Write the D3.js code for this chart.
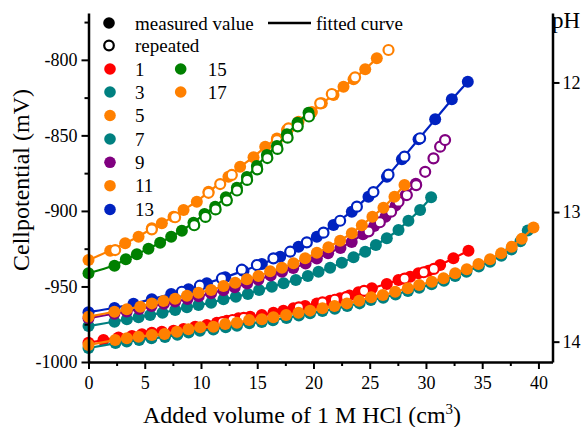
<!DOCTYPE html>
<html><head><meta charset="utf-8">
<script src="https://cdn.jsdelivr.net/npm/d3@7"></script>
<style>
body{margin:0;background:#fff}
svg{display:block}
</style>
</head><body>
<svg id="chart" width="585" height="427"></svg>
<script>
// ---------- data ----------
const xTickValues = [0,5,10,15,20,25,30,35,40];
const xMinorTicks = [2.5,7.5,12.5,17.5,22.5,27.5,32.5,37.5];
const yTickValues = [-1000,-950,-900,-850,-800];
const yMinorTicks = [-975,-925,-875,-825,-775];
const pHTickValues = [12,13,14];

const seriesLabels = ["1","3","5","7","9","11","13","15","17"];
const seriesColors = ["#ff0000","#008080","#ff8000","#008080","#800080","#ff8000","#0022c0","#008000","#ff8000"];

// pH 1 (red)
const pH1_measured = [[0,-987.2],[1.33,-985.5],[2.67,-983.8],[3.86,-982.8],[4.75,-981.7],[5.63,-980.6],[6.52,-979.9],[7.56,-979.3],[8.45,-978.2],[9.48,-976.6],[10.52,-975.5],[11.41,-974.0],[12.3,-972.7],[13.33,-971.1],[14.37,-970.0],[15.41,-968.9],[16.44,-967.4],[17.33,-966.0],[18.22,-964.5],[19.26,-962.9],[20.3,-961.2],[21.48,-959.4],[22.37,-957.8],[23.2,-956.0],[24.0,-953.9],[25.19,-951.2],[26.52,-948.4],[27.56,-945.7],[28.6,-943.5],[29.33,-941.3],[30.22,-939.6],[31.26,-935.8],[32.44,-931.4],[33.78,-926.3]];
const pH1_repeated = [[11.9,-973.6],[12.8,-972.2],[13.8,-970.8],[18.7,-963.8],[20.8,-960.5],[21.9,-958.8],[22.9,-957.0],[24.5,-952.9],[28.1,-944.8],[29.8,-940.6],[30.7,-938.4]];

// pH 3 (teal)
const pH3_measured = [[0,-990.8],[2.4,-987.5],[3.4,-986.5],[4.5,-985.5],[5.6,-984.3],[6.8,-983.5],[7.9,-982.0],[8.9,-980.5],[9.9,-979.3],[11.1,-978.5],[12.2,-977.0],[13.2,-976.0],[14.3,-974.3],[15.4,-973.5],[16.4,-972.3],[17.6,-970.8],[18.7,-969.3],[19.7,-967.8],[20.8,-966.3],[21.9,-964.8],[23.0,-963.0],[24.1,-961.2],[25.1,-959.0],[26.2,-957.5],[27.3,-955.3],[28.4,-953.0],[29.4,-950.8],[30.5,-948.6],[31.6,-946.3],[32.6,-943.0],[33.6,-940.3],[34.7,-936.8],[35.7,-933.6],[36.7,-929.6],[37.6,-925.5],[38.4,-920.0],[39.05,-913.0]];
const pH3_repeated = [];

// pH 5 (orange, middle curve)
const pH5_measured = [[0,-970.0],[2.31,-966.7],[3.41,-965.1],[4.6,-963.4],[5.63,-961.2],[6.67,-959.6],[7.7,-958.1],[8.75,-956.2],[9.78,-954.1],[10.9,-952.3],[12.0,-949.7],[13.04,-947.5],[14.08,-945.3],[15.11,-943.1],[16.15,-940.0],[17.19,-937.6],[18.22,-934.7],[19.26,-931.4],[20.3,-927.7],[21.33,-924.1],[22.37,-919.7],[23.41,-914.8],[24.3,-909.5],[25.24,-903.8],[26.22,-897.9],[27.2,-890.6],[28.09,-882.9]];
const pH5_repeated = [];

// pH 7 (teal)
const pH7_measured = [[0,-976.2],[2.31,-973.3],[3.41,-971.7],[4.45,-970.4],[5.48,-968.9],[6.58,-967.4],[7.71,-965.6],[8.75,-963.8],[9.78,-962.3],[10.9,-960.8],[12.0,-958.5],[13.1,-956.8],[14.17,-955.0],[15.17,-952.3],[16.3,-950.2],[17.34,-947.9],[18.43,-945.7],[19.5,-943.1],[20.45,-940.2],[21.48,-937.6],[22.52,-934.3],[23.56,-930.7],[24.6,-927.0],[25.55,-922.6],[26.52,-918.1],[27.56,-912.6],[28.44,-906.5],[29.48,-899.4],[30.46,-891.0]];
const pH7_repeated = [];

// pH 9 (purple)
const pH9_measured = [[0,-971.0],[2.3,-968.0],[3.4,-966.5],[4.5,-965.0],[5.6,-963.0],[6.7,-961.5],[7.7,-960.0],[8.8,-958.3],[9.8,-956.5],[10.9,-954.5],[12.0,-952.5],[13.0,-950.5],[14.1,-948.0],[15.1,-945.5],[16.2,-942.8],[17.2,-940.2],[18.2,-937.8],[19.3,-934.8],[20.3,-931.5],[21.3,-928.0],[22.4,-924.5],[23.4,-920.5],[24.4,-915.5],[25.4,-910.0],[26.4,-903.8],[27.3,-896.5],[28.2,-889.5],[29.1,-882.0]];
const pH9_repeated = [[24.9,-913.5],[25.9,-907.5],[26.9,-900.5],[27.56,-893.9],[28.3,-889.5],[29.13,-882.9],[29.93,-874.1],[30.67,-865.2],[31.26,-857.5],[31.7,-853.1]];

// pH 11 (orange, top curve)
const pH11_measured = [[0,-932.5],[1.93,-926.3],[3.26,-921.4],[4.45,-917.1],[5.63,-911.5],[6.52,-908.2],[7.56,-903.8],[8.45,-899.4],[9.63,-893.9],[10.67,-887.3],[12.44,-877.4],[13.48,-870.7],[14.67,-864.5],[15.71,-857.5],[16.75,-852.0],[17.64,-846.5],[18.67,-841.0],[19.86,-834.5],[20.74,-828.8],[21.78,-823.3],[22.67,-817.8],[23.56,-812.9],[24.6,-806.3],[25.63,-799.0]];
const pH11_repeated = [[2.37,-925.9],[5.63,-912.2],[7.7,-904.2],[10.67,-888.0],[11.71,-882.2],[12.74,-876.2],[16.75,-853.1],[17.78,-845.3],[20.6,-828.8],[21.63,-822.6],[23.7,-811.6],[26.67,-793.5]];

// pH 13 (blue)
const pH13_measured = [[0,-967.0],[2.31,-964.3],[4.0,-961.5],[5.63,-958.5],[7.35,-955.0],[8.89,-951.9],[10.52,-947.9],[12.15,-943.9],[13.78,-939.8],[15.41,-935.1],[17.04,-930.3],[18.67,-923.7],[20.3,-917.1],[21.78,-909.3],[23.41,-900.5],[24.89,-890.6],[26.53,-877.4],[27.86,-865.8],[29.34,-852.6],[30.82,-839.4],[32.3,-826.1],[33.72,-814.5]];
const pH13_repeated = [[8.3,-953.5],[9.9,-949.5],[11.86,-944.7],[13.63,-938.9],[14.97,-935.8],[16.44,-931.4],[17.93,-927.0],[19.41,-920.8],[20.89,-914.4],[22.37,-906.5],[23.86,-897.2],[25.33,-887.5],[26.67,-876.0],[28.09,-864.1],[29.48,-851.9]];

// pH 15 (green)
const pH15_measured = [[0,-941.3],[2.31,-936.3],[3.32,-932.0],[4.3,-928.7],[5.33,-925.0],[6.37,-921.0],[7.35,-917.1],[8.3,-913.1],[9.33,-907.8],[10.31,-902.1],[11.26,-897.2],[12.21,-891.0],[13.19,-884.6],[14.08,-877.6],[14.97,-870.3],[15.86,-863.0],[16.75,-857.0],[17.64,-849.3],[18.58,-841.6],[19.56,-835.0]];
const pH15_repeated = [[9.4,-909.5],[10.4,-904.0],[11.3,-899.0],[12.3,-893.0],[13.2,-886.5],[14.1,-879.5],[15.0,-872.5],[15.9,-865.0],[16.8,-859.0],[17.7,-851.5],[18.6,-844.0],[19.6,-837.5]];

// pH 17 (orange, bottom curve)
const pH17_measured = [[0,-988.7],[2.37,-985.4],[3.41,-984.3],[4.45,-983.3],[5.63,-982.1],[6.76,-981.5],[7.86,-979.9],[8.89,-978.4],[9.93,-977.0],[11.11,-976.6],[12.15,-974.9],[13.19,-974.0],[14.28,-972.2],[15.41,-971.7],[16.44,-970.4],[17.57,-968.9],[18.67,-967.4],[19.7,-966.0],[20.8,-964.5],[21.87,-962.9],[22.97,-961.2],[24.06,-959.4],[25.13,-957.2],[26.17,-955.7],[27.26,-953.5],[28.39,-951.2],[29.4,-949.0],[30.52,-946.9],[31.56,-944.6],[32.6,-941.3],[33.63,-938.6],[34.67,-935.1],[35.7,-932.0],[36.68,-928.1],[37.63,-923.7],[38.52,-918.5],[39.56,-911.0]];
const pH17_repeated = [];

const seriesMeasured = [pH1_measured,pH3_measured,pH5_measured,pH7_measured,pH9_measured,pH11_measured,pH13_measured,pH15_measured,pH17_measured];
const seriesRepeated = [pH1_repeated,pH3_repeated,pH5_repeated,pH7_repeated,pH9_repeated,pH11_repeated,pH13_repeated,pH15_repeated,pH17_repeated];
const drawOrder = [0,1,8,3,4,6,2,5,7];

// ---------- chart ----------
const FONT = "'Liberation Serif', 'Times New Roman', Tinos, 'DejaVu Serif', serif";
const svg = d3.select("#chart");
const x = d3.scaleLinear().domain([0,41.25]).range([88.5,552.5]);
const y = d3.scaleLinear().domain([-1000,-769]).range([362,13]);
const yPH = d3.scaleLinear().domain([14.157,11.464]).range([362,13]);

const line = d3.line().x(d=>x(d[0])).y(d=>y(d[1])).curve(d3.curveBasis);
const plot = svg.append("g");

drawOrder.forEach(i=>{
  const col = seriesColors[i];
  const g = plot.append("g");
  g.append("path").datum(seriesMeasured[i]).attr("d",line)
    .attr("fill","none").attr("stroke",col).attr("stroke-width",2.2);
  g.selectAll("circle.m").data(seriesMeasured[i]).join("circle")
    .attr("class","m").attr("cx",d=>x(d[0])).attr("cy",d=>y(d[1])).attr("r",6).attr("fill",col);
  g.selectAll("circle.r").data(seriesRepeated[i]).join("circle")
    .attr("class","r").attr("cx",d=>x(d[0])).attr("cy",d=>y(d[1])).attr("r",5)
    .attr("fill","#fff").attr("stroke",col).attr("stroke-width",2.2);
});

// axes
function styleAxis(g, fs){
  g.attr("font-family",FONT);
  g.select(".domain").attr("stroke","#000").attr("stroke-width",2.5);
  g.selectAll(".tick line").attr("stroke","#000").attr("stroke-width",2);
  g.selectAll(".tick text").attr("font-size",fs).attr("fill","#000").attr("font-family",FONT);
}
const fmt = d=>String(d);
const gx = svg.append("g").attr("transform","translate(0,362)")
  .call(d3.axisBottom(x).tickValues(xTickValues).tickFormat(fmt).tickSize(7).tickSizeOuter(0).tickPadding(7));
styleAxis(gx,18);
const gxm = svg.append("g").attr("transform","translate(0,362)")
  .call(d3.axisBottom(x).tickValues(xMinorTicks).tickFormat("").tickSize(4).tickSizeOuter(0));
gxm.select(".domain").remove(); styleAxis(gxm,18);

const gy = svg.append("g").attr("transform","translate(88.5,0)")
  .call(d3.axisLeft(y).tickValues(yTickValues).tickFormat(fmt).tickSize(7).tickSizeOuter(0).tickPadding(4));
styleAxis(gy,18);
const gym = svg.append("g").attr("transform","translate(88.5,0)")
  .call(d3.axisLeft(y).tickValues(yMinorTicks).tickFormat("").tickSize(4).tickSizeOuter(0));
gym.select(".domain").remove(); styleAxis(gym,18);

const gr = svg.append("g").attr("transform","translate(552.5,0)")
  .call(d3.axisRight(yPH).tickValues(pHTickValues).tickFormat(fmt).tickSize(7).tickSizeOuter(0).tickPadding(3));
styleAxis(gr,18);

function txt(sel){ return sel.append("text").attr("font-family",FONT).attr("fill","#000"); }

txt(svg).attr("x",552).attr("y",28).attr("font-size",23).text("pH");

// axis titles
txt(svg).attr("transform","translate(29,180) rotate(-90)")
  .attr("text-anchor","middle").attr("font-size",24).text("Cellpotential (mV)");
const xt = txt(svg).attr("x",302).attr("y",423).attr("text-anchor","middle").attr("font-size",24);
xt.append("tspan").text("Added volume of 1 M HCl (cm");
xt.append("tspan").attr("font-size",15).attr("dy",-9).text("3");
xt.append("tspan").attr("dy",9).text(")");

// legend
const leg = svg.append("g");
leg.append("circle").attr("cx",109).attr("cy",23).attr("r",5.8).attr("fill","#000");
txt(leg).attr("x",135).attr("y",29.5).attr("font-size",19).text("measured value");
leg.append("line").attr("x1",268).attr("x2",311).attr("y1",23).attr("y2",23).attr("stroke","#000").attr("stroke-width",2.5);
txt(leg).attr("x",316).attr("y",29.5).attr("font-size",19).text("fitted curve");
leg.append("circle").attr("cx",109).attr("cy",45.5).attr("r",4.8).attr("fill","#fff").attr("stroke","#000").attr("stroke-width",2.2);
txt(leg).attr("x",135).attr("y",52).attr("font-size",19).text("repeated");

const legRows = [69,92,115.5,139,162.3,185.7,209.5];
seriesLabels.forEach((lab,i)=>{
  const col = i<7 ? 0 : 1;
  const row = i<7 ? i : i-7;
  const cx = col===0 ? 110 : 180.7;
  const tx = col===0 ? 135 : 207.7;
  const cy = legRows[row];
  leg.append("circle").attr("cx",cx).attr("cy",cy).attr("r",5.8).attr("fill",seriesColors[i]);
  txt(leg).attr("x",tx).attr("y",cy+6.5).attr("font-size",19).text(lab);
});
</script>
</body></html>
